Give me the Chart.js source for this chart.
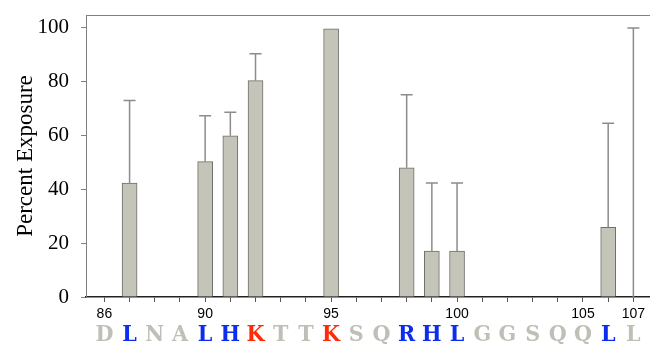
<!DOCTYPE html>
<html>
<head>
<meta charset="utf-8">
<script src="https://cdn.jsdelivr.net/npm/chart.js@4"></script>
<style>
  html, body { margin: 0; padding: 0; background: #fff; }
  #wrap { width: 650px; height: 344px; }
</style>
</head>
<body>
<div id="wrap"><canvas id="chart" width="650" height="344"></canvas></div>
<script>
// residue numbers and one-letter sequence along the bottom
const residues = [86, 87, 88, 89, 90, 91, 92, 93, 94, 95, 96, 97, 98, 99, 100, 101, 102, 103, 104, 105, 106, 107];
const sequence = ['D', 'L', 'N', 'A', 'L', 'H', 'K', 'T', 'T', 'K', 'S', 'Q', 'R', 'H', 'L', 'G', 'G', 'S', 'Q', 'Q', 'L', 'L'];
// h = hydrophobic/blue, c = charged/red, n = neutral
const letterKind = ['n', 'h', 'n', 'n', 'h', 'h', 'c', 'n', 'n', 'c', 'n', 'n', 'h', 'h', 'h', 'n', 'n', 'n', 'n', 'n', 'h', 'n'];
const labelledTicks = [86, 90, 95, 100, 105, 107];

// measured residues
const barResidues = [87, 90, 91, 92, 95, 98, 99, 100, 106, 107];
const exposure = [42.3, 50.3, 59.9, 80.4, 99.7, 48.0, 17.1, 17.1, 25.9, 0];
const errorTop = [73.0, 67.4, 68.7, 90.4, null, 75.2, 42.4, 42.4, 64.6, 100];

const yTicks = [0, 20, 40, 60, 80, 100];

const kindColors = { n: '#bfbfb7', h: '#0c2ded', c: '#ff2a08' };

const errorBars = {
    id: 'errorBars',
    afterDatasetsDraw(chart) {
        const ctx = chart.ctx;
        const x = chart.scales.x;
        const y = chart.scales.y;
        ctx.save();
        ctx.strokeStyle = '#8c8c8c';
        ctx.lineWidth = 1.5;
        barResidues.forEach((r, i) => {
            if (errorTop[i] == null) return;
            const px = x.getPixelForValue(r);
            const y0 = y.getPixelForValue(exposure[i]);
            const y1 = y.getPixelForValue(errorTop[i]);
            ctx.beginPath();
            ctx.moveTo(px, y0);
            ctx.lineTo(px, y1);
            ctx.moveTo(px - 6, y1);
            ctx.lineTo(px + 6, y1);
            ctx.stroke();
        });
        // top frame line
        const a = chart.chartArea;
        ctx.strokeStyle = '#808080';
        ctx.lineWidth = 1;
        ctx.beginPath();
        ctx.moveTo(a.left, a.top + 0.5);
        ctx.lineTo(a.right, a.top + 0.5);
        ctx.stroke();
        ctx.restore();
    }
};

const xMin = 85.27;
const xMax = 107.66;
const residueTicks = scale => { scale.ticks = residues.map(v => ({ value: v })); };

new Chart(document.getElementById('chart'), {
    type: 'bar',
    data: {
        datasets: [{
            data: barResidues.map((r, i) => ({ x: r, y: exposure[i] })),
            backgroundColor: '#c4c4b9',
            borderColor: '#6f6f69',
            borderWidth: 1,
            barThickness: 15
        }]
    },
    options: {
        responsive: false,
        animation: false,
        layout: { padding: { top: 15, left: 0, right: 0, bottom: 0 } },
        plugins: { legend: { display: false }, tooltip: { enabled: false } },
        scales: {
            x: {
                type: 'linear',
                position: 'bottom',
                offset: false,
                min: xMin,
                max: xMax,
                afterBuildTicks: residueTicks,
                afterFit: s => { s.height = 22; s.paddingLeft = 0; s.paddingRight = 0; },
                grid: { drawOnChartArea: false, offset: false, tickLength: 5, color: '#555', lineWidth: 1 },
                border: { color: '#222', width: 1.5 },
                ticks: {
                    autoSkip: false,
                    maxRotation: 0,
                    padding: 4,
                    color: '#000',
                    font: { family: 'Liberation Sans', size: 14 },
                    callback: v => labelledTicks.includes(v) ? String(v) : ''
                }
            },
            seq: {
                type: 'linear',
                position: 'bottom',
                offset: false,
                min: xMin,
                max: xMax,
                afterBuildTicks: residueTicks,
                afterFit: s => { s.height = 25; s.paddingLeft = 0; s.paddingRight = 0; },
                grid: { display: false, drawTicks: false, offset: false },
                border: { display: false },
                ticks: {
                    autoSkip: false,
                    maxRotation: 0,
                    padding: 2,
                    font: { family: '"DejaVu Serif Condensed", "DejaVu Serif"', size: 23, weight: 'bold' },
                    color: c => kindColors[letterKind[c.index]],
                    callback: (v, i) => sequence[i]
                }
            },
            y: {
                min: 0,
                max: 104.8,
                afterBuildTicks: s => { s.ticks = yTicks.map(v => ({ value: v })); },
                afterFit: s => { s.width = 86; s.paddingTop = 0; s.paddingBottom = 0; },
                grid: { drawOnChartArea: false, tickLength: 5, color: '#808080' },
                border: { color: '#808080', width: 1 },
                ticks: {
                    padding: 12,
                    color: '#000',
                    font: { family: 'Liberation Serif', size: 21 }
                },
                title: {
                    display: true,
                    text: 'Percent Exposure',
                    color: '#000',
                    font: { family: 'Liberation Serif', size: 23 },
                    padding: { top: 12, bottom: 0 }
                }
            }
        }
    },
    plugins: [errorBars]
});
</script>
</body>
</html>
